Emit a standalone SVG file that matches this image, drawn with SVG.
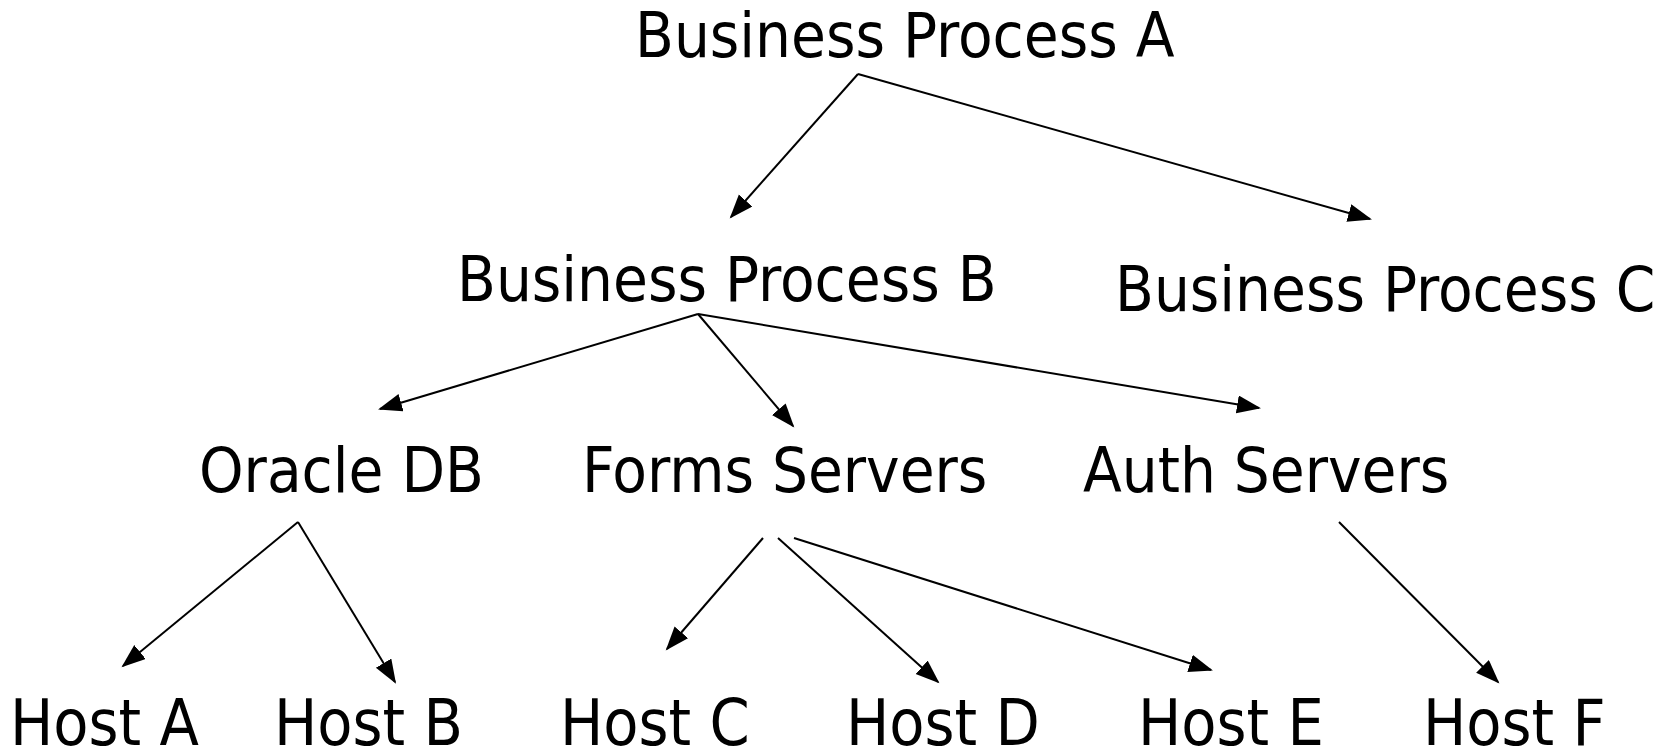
<svg xmlns="http://www.w3.org/2000/svg" width="1670" height="752" viewBox="0 0 1670 752">
  <style>
    .label { font-family: "DejaVu Sans Condensed", "DejaVu Sans", sans-serif; font-stretch: condensed; font-size: 63px; fill: #000; }
    .host { font-size: 64px; }
    .edge { stroke: #000; stroke-width: 2; fill: none; marker-end: url(#arrow); }
  </style>
  <defs>
    <marker id="arrow" markerUnits="userSpaceOnUse" markerWidth="26" markerHeight="20" refX="22" refY="9" orient="auto">
      <path d="M0,0 L24,9 L0,18 z" fill="#000"/>
    </marker>
  </defs>
  <rect width="1670" height="752" fill="#fff"/>

  <!-- hierarchy connectors -->
  <g id="connectors">
    <path class="edge" d="M858,74 L731,217"/>
    <path class="edge" d="M858,74 L1370,219"/>
    <path class="edge" d="M698,314 L380,409"/>
    <path class="edge" d="M698,314 L793,426"/>
    <path class="edge" d="M698,314 L1259,408"/>
    <path class="edge" d="M298,522 L123,666"/>
    <path class="edge" d="M298,522 L395,682"/>
    <path class="edge" d="M763,538 L667,649"/>
    <path class="edge" d="M778,538 L938,682"/>
    <path class="edge" d="M794,538 L1211,670"/>
    <path class="edge" d="M1339,522 L1498,682"/>
  </g>

  <g id="bp-a"><text class="label" x="635" y="57">Business Process A</text></g>
  <g id="bp-b"><text class="label" x="457" y="301">Business Process B</text></g>
  <g id="bp-c"><text class="label" x="1115" y="311">Business Process C</text></g>
  <g id="oracle-db"><text class="label" x="199" y="492">Oracle DB</text></g>
  <g id="forms-servers"><text class="label" x="582" y="492">Forms Servers</text></g>
  <g id="auth-servers"><text class="label" x="1083" y="492">Auth Servers</text></g>
  <g id="host-a"><text class="label host" x="10" y="745">Host A</text></g>
  <g id="host-b"><text class="label host" x="274" y="745">Host B</text></g>
  <g id="host-c"><text class="label host" x="560" y="745">Host C</text></g>
  <g id="host-d"><text class="label host" x="846" y="745">Host D</text></g>
  <g id="host-e"><text class="label host" x="1138" y="745">Host E</text></g>
  <g id="host-f"><text class="label host" x="1423" y="745">Host F</text></g>
</svg>
